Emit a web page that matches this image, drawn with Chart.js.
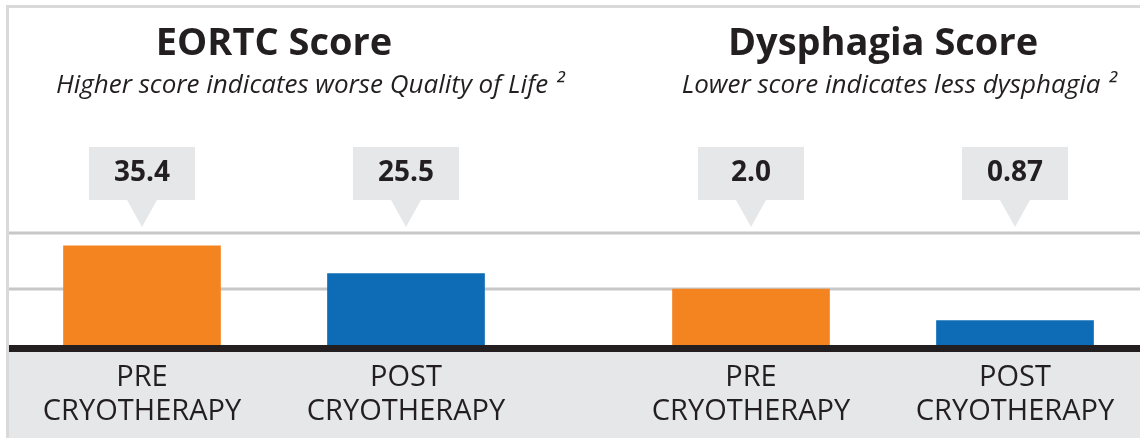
<!DOCTYPE html>
<html>
<head>
<meta charset="utf-8">
<script src="https://cdn.jsdelivr.net/npm/chart.js@4"></script>
<style>
  html, body { margin: 0; padding: 0; background: #fff; }
  #wrap { position: relative; width: 1140px; height: 438px; overflow: hidden; background: #fff; }
  #frame { position: absolute; left: 6px; top: 5px; right: -10px; bottom: -10px;
           border-left: 3px solid #d9d9d9; border-top: 3px solid #d9d9d9; }
  .panel { position: absolute; top: 0; width: 580px; height: 438px; }
  #left { left: 0; }
  #right { left: 580px; }
</style>
</head>
<body>
<div id="wrap">
  <div id="frame"></div>
  <div class="panel" id="left"><canvas id="eortcChart"></canvas></div>
  <div class="panel" id="right"><canvas id="dysChart"></canvas></div>
</div>
<script>
// data
var categories = [['PRE', 'CRYOTHERAPY'], ['POST', 'CRYOTHERAPY']];
var eortcValues = [35.4, 25.5];
var eortcLabels = ['35.4', '25.5'];
var eortcGrid = [20, 40];
var dysValues = [2.0, 0.87];
var dysLabels = ['2.0', '0.87'];
var dysGrid = [2, 4];
var barColors = ['#f48420', '#0d6cb5'];

var ink = '#231f20';
var band = '#e6e7e8';

// background band, grid rules, baseline, subtitle and value callouts
var decor = {
    id: 'decor',
    beforeDraw: function (chart, args, opts) {
        var ctx = chart.ctx;
        var base = chart.scales.y.getPixelForValue(0);
        ctx.save();
        ctx.fillStyle = band;
        ctx.fillRect(opts.left, base, chart.width - opts.left, chart.height - base);
        ctx.fillStyle = '#c7c8ca';
        opts.grid.forEach(function (v) {
            var p = chart.scales.y.getPixelForValue(v);
            ctx.fillRect(opts.left, p - 1.5, chart.width - opts.left, 3);
        });
        ctx.restore();
    },
    afterDatasetsDraw: function (chart, args, opts) {
        var ctx = chart.ctx;
        var xs = chart.scales.x;
        var area = chart.chartArea;
        var base = chart.scales.y.getPixelForValue(0);
        ctx.save();
        ctx.fillStyle = ink;
        ctx.fillRect(opts.left, base, chart.width - opts.left, 7);

        // subtitle sits a little right of the panel centre in the original
        ctx.font = 'italic 26px "Open Sans"';
        ctx.textAlign = 'center';
        ctx.textBaseline = 'middle';
        ctx.fillText(opts.sub, (area.left + area.right) / 2 + opts.subDx, 86);

        opts.labels.forEach(function (txt, i) {
            var cx = xs.getPixelForValue(i);
            var top = 147, w = 106, h = 53;
            ctx.fillStyle = band;
            ctx.fillRect(cx - w / 2, top, w, h);
            ctx.beginPath();
            ctx.moveTo(cx - 15, top + h);
            ctx.lineTo(cx + 15, top + h);
            ctx.lineTo(cx, top + h + 27);
            ctx.closePath();
            ctx.fill();
            ctx.fillStyle = ink;
            ctx.font = 'bold 28px "Open Sans"';
            ctx.fillText(txt, cx, top + h / 2);
        });
        ctx.restore();
    }
};

function makeChart(id, title, subtitle, subDx, values, labels, grid, max, pad, left) {
    var ctx = document.getElementById(id).getContext('2d');
    return new Chart(ctx, {
        type: 'bar',
        data: {
            labels: categories,
            datasets: [{
                data: values,
                backgroundColor: barColors,
                barThickness: 157
            }]
        },
        plugins: [decor],
        options: {
            responsive: true,
            maintainAspectRatio: false,
            animation: false,
            layout: { padding: pad },
            scales: {
                x: {
                    grid: { display: false, drawTicks: false },
                    border: { display: false },
                    ticks: {
                        color: ink,
                        font: { family: 'Open Sans', size: 29, lineHeight: 1.2 },
                        padding: 15,
                        maxRotation: 0,
                        autoSkip: false
                    },
                    afterFit: function (s) { s.height = 93; }
                },
                y: { display: false, min: 0, max: max }
            },
            plugins: {
                legend: { display: false },
                tooltip: { enabled: false },
                title: {
                    display: true,
                    text: title,
                    fullSize: false,
                    color: ink,
                    font: { family: 'Open Sans', size: 38, weight: 'bold' },
                    padding: { top: 21, bottom: 54.4 }
                },
                decor: { left: left, grid: grid, labels: labels, sub: subtitle, subDx: subDx }
            }
        }
    });
}

makeChart('eortcChart', 'EORTC Score', 'Higher score indicates worse Quality of Life \u00b2', 36,
    eortcValues, eortcLabels, eortcGrid, 80, { left: 10, right: 42 }, 9);
makeChart('dysChart', 'Dysphagia Score', 'Lower score indicates less dysphagia \u00b2', 16,
    dysValues, dysLabels, dysGrid, 8, { left: 39, right: 13 }, 0);
</script>
</body>
</html>
